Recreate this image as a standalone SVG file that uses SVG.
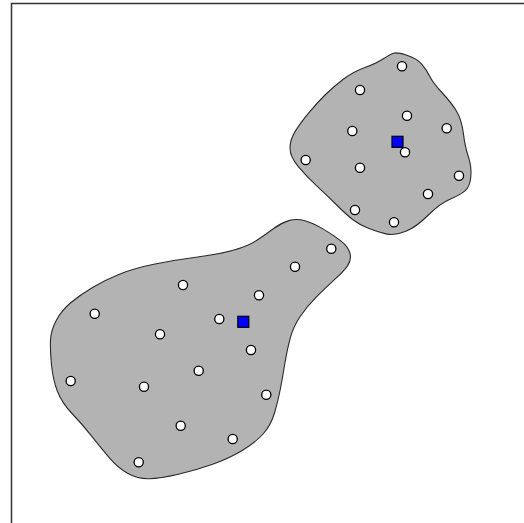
<svg xmlns="http://www.w3.org/2000/svg" width="524" height="523" viewBox="0 0 524 523">
<style>
.blob{fill:#b3b3b3;stroke:#2a2a2a;stroke-width:1.1}
.pt{fill:#ffffff;stroke:#000000;stroke-width:1.3}
.ctr{fill:#0000ff;stroke:#000000;stroke-width:1.2}
.frame{fill:none;stroke:#333333;stroke-width:1.5}
</style>
<rect width="524" height="523" fill="#ffffff"/>
<path class="frame" d="M11.5,523 V3.5 H524"/>
<g id="cluster-a">
<path class="blob" d="M393.5,53.15 Q397,52 406.85,55.15 Q416.7,58.3 421.7,64.15 Q426.7,70 429.85,76.5 Q433,83 442.35,93 Q451.7,103 456.7,111.5 Q461.7,120 463.35,133.35 Q465,146.7 468.35,156.7 Q471.7,166.7 470.85,176.7 Q470,186.7 465,190.85 Q460,195 450,199.15 Q440,203.3 428.35,215 Q416.7,226.7 405.85,231.35 Q395,236 385.85,233.85 Q376.7,231.7 368.35,228.35 Q360,225 353.35,220 Q346.7,215 336.7,205 Q326.7,195 316.7,185.85 Q306.7,176.7 298.35,166.7 Q290,156.7 290,148.35 Q290,140 295,131.65 Q300,123.3 308.35,113.3 Q316.7,103.3 325,95 Q333.3,86.7 343.3,79.2 Q353.3,71.7 365,67.5 Q376.7,63.3 383.35,58.8 Q390,54.3 393.5,53.15 Z"/>
<circle class="pt" cx="402" cy="66.3" r="4.6"/>
<circle class="pt" cx="360" cy="90" r="4.6"/>
<circle class="pt" cx="407" cy="115.7" r="4.6"/>
<circle class="pt" cx="446.7" cy="128.3" r="4.6"/>
<circle class="pt" cx="352.3" cy="131" r="4.6"/>
<circle class="pt" cx="405" cy="152.3" r="4.6"/>
<circle class="pt" cx="305.7" cy="160" r="4.6"/>
<circle class="pt" cx="360" cy="167.7" r="4.6"/>
<circle class="pt" cx="459" cy="175.7" r="4.6"/>
<circle class="pt" cx="428" cy="194" r="4.6"/>
<circle class="pt" cx="355" cy="210" r="4.6"/>
<circle class="pt" cx="394" cy="222.3" r="4.6"/>
<rect id="center-a" class="ctr" x="392" y="136.3" width="11" height="11"/>
</g>
<g id="cluster-b">
<path class="blob" d="M288.85,220.65 Q296.7,218.3 305,220.8 Q313.3,223.3 323.3,229.15 Q333.3,235 340.8,240.85 Q348.3,246.7 350,253.35 Q351.7,260 347.5,265.85 Q343.3,271.7 335,279.2 Q326.7,286.7 316.7,296.7 Q306.7,306.7 300,316.7 Q293.3,326.7 290.15,338.35 Q287,350 285,362.5 Q283,375 280.65,387.5 Q278.3,400 274.65,412.5 Q271,425 263.5,433.5 Q256,442 243,450 Q230,458 213.35,464 Q196.7,470 178.35,474.25 Q160,478.5 149,478.75 Q138,479 128,473.5 Q118,468 109,457.35 Q100,446.7 91,435.35 Q82,424 72,413.5 Q62,403 57.5,391.5 Q53,380 51.5,365 Q50,350 50.5,340 Q51,330 56.5,320 Q62,310 71,302.5 Q80,295 92.5,287.5 Q105,280 120,274 Q135,268 155,264 Q175,260 197.5,257 Q220,254 234,250 Q248,246 256.5,240.5 Q265,235 273,229 Q281,223 288.85,220.65 Z"/>
<circle class="pt" cx="331.3" cy="248.7" r="4.6"/>
<circle class="pt" cx="295" cy="266.7" r="4.6"/>
<circle class="pt" cx="183" cy="285" r="4.6"/>
<circle class="pt" cx="259" cy="295.3" r="4.6"/>
<circle class="pt" cx="94.7" cy="313.7" r="4.6"/>
<circle class="pt" cx="219.3" cy="319" r="4.6"/>
<circle class="pt" cx="160" cy="334.3" r="4.6"/>
<circle class="pt" cx="251" cy="350" r="4.6"/>
<circle class="pt" cx="198.7" cy="370.7" r="4.6"/>
<circle class="pt" cx="70.7" cy="381" r="4.6"/>
<circle class="pt" cx="144" cy="386.7" r="4.6"/>
<circle class="pt" cx="266.3" cy="394.7" r="4.6"/>
<circle class="pt" cx="180.7" cy="425.7" r="4.6"/>
<circle class="pt" cx="232.7" cy="439" r="4.6"/>
<circle class="pt" cx="138.7" cy="462.3" r="4.6"/>
<rect id="center-b" class="ctr" x="237.8" y="316.3" width="11" height="11"/>
</g>
</svg>
